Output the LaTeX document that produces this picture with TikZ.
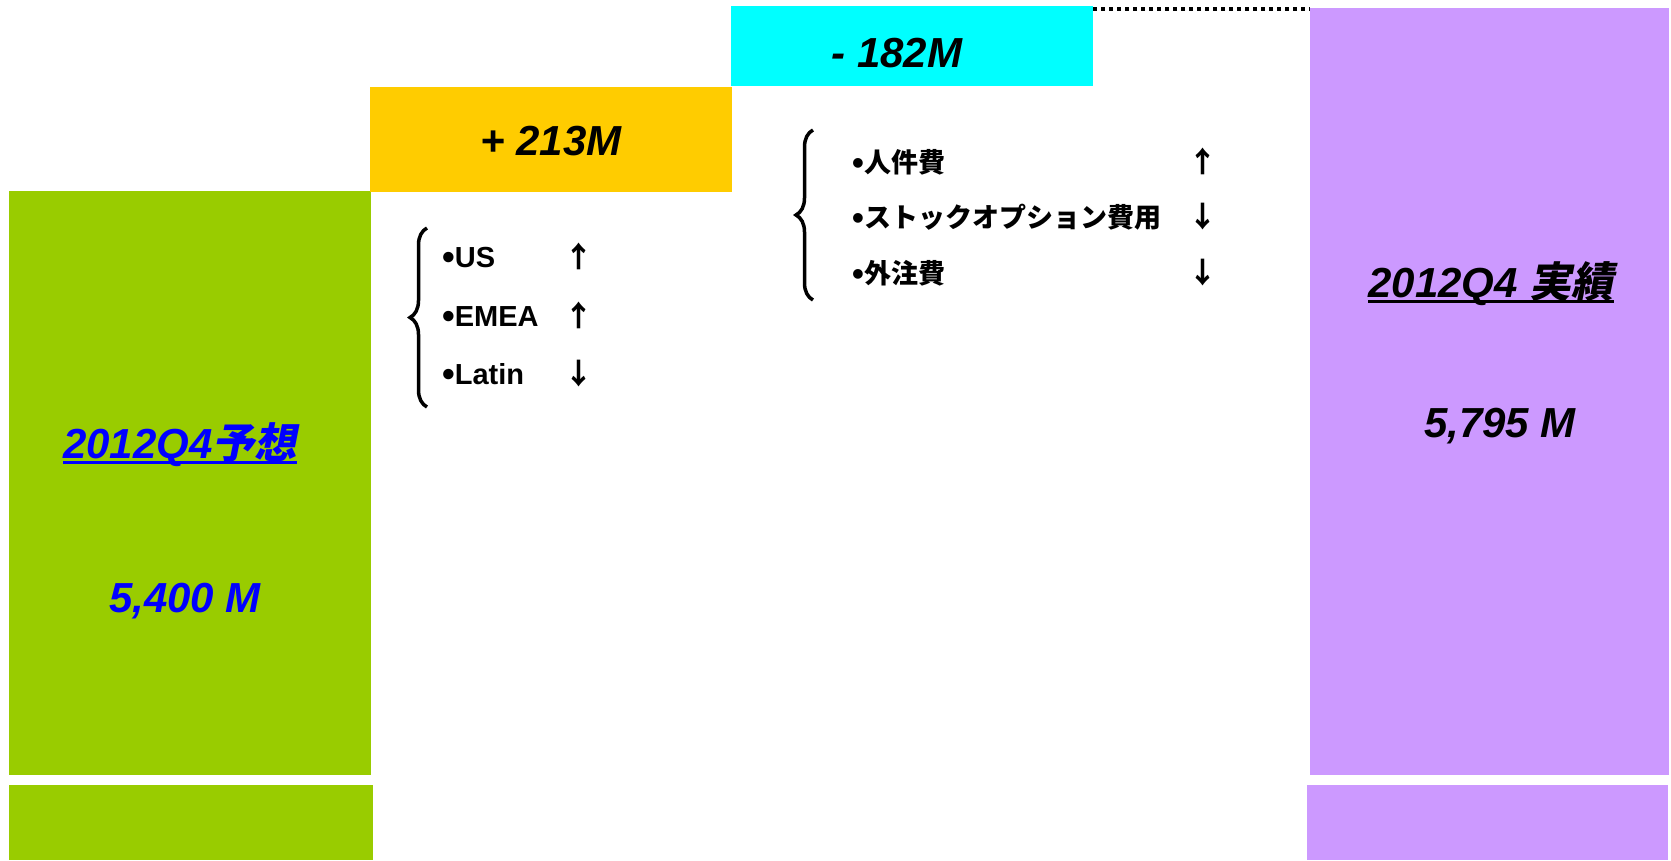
\documentclass[tikz,border=0pt]{standalone}
\usepackage{fontspec}
\setmainfont{Liberation Sans}
\newfontfamily\jp{Noto Sans CJK JP}
\newfontfamily\jpsl{Noto Sans CJK JP}[FakeSlant=0.2]
\usetikzlibrary{decorations.pathreplacing}
\definecolor{barGreen}{HTML}{99CC00}
\definecolor{barYellow}{HTML}{FFCC00}
\definecolor{barCyan}{HTML}{00FFFF}
\definecolor{barPurple}{HTML}{CC99FF}
\definecolor{txtBlue}{HTML}{0000FF}
\newcommand\ulx[1]{\setbox0\hbox{#1}\rlap{\vrule width \wd0 height -3pt depth 6pt}\box0}
\newcommand\bul{\raisebox{-0.09em}{\scalebox{1.25}{•}}}
\begin{document}
\begin{tikzpicture}[x=1pt,y=-1pt,
  bar/.style={draw=none,inner sep=0pt,outer sep=0pt,anchor=north west},
  big/.style={inner sep=0pt,anchor=base,font=\fontsize{42}{50}\selectfont\bfseries\itshape},
  item/.style={inner sep=0pt,anchor=base west,font=\fontsize{29}{34}\selectfont\bfseries},
  jitem/.style={inner sep=0pt,anchor=base west,font=\fontsize{27}{32}\selectfont\bfseries},
  updown/.style={inner sep=0pt,anchor=base,font=\fontsize{29}{34}\selectfont\jp\bfseries},
  bracestyle/.style={decorate,decoration={brace,amplitude=17pt},line width=3.5pt},
  dotline/.style={line width=3.5pt,dash pattern=on 3.5pt off 4.5pt}]
\useasboundingbox (0,0) rectangle (1671,860);
\fill[white] (0,0) rectangle (1671,860);
% bars
\node[bar,fill=barGreen,minimum width=362pt,minimum height=584pt] (green) at (9,191) {};
\node[bar,fill=barGreen,minimum width=364pt,minimum height=75pt] (green2) at (9,785) {};
\node[bar,fill=barYellow,minimum width=362pt,minimum height=105pt] (yellow) at (370,87) {};
\node[bar,fill=barCyan,minimum width=362pt,minimum height=80pt] (cyan) at (731,6) {};
\node[bar,fill=barPurple,minimum width=359pt,minimum height=767pt] (purple) at (1310,8) {};
\node[bar,fill=barPurple,minimum width=361pt,minimum height=75pt] (purple2) at (1307,785) {};
% dotted line
\coordinate (d1) at (1093,9);
\coordinate (d2) at (1310,9);
\draw[dotline] (d1) -- (d2);
% labels
\node[big,text=txtBlue] (lbl1) at (180,458) {\ulx{2012Q4{\jpsl 予想}}};
\node[big,text=txtBlue] (val1) at (185,612) {5,400 M};
\node[big] (plus) at (551,155) {+ 213M};
\node[big] (minus) at (897,67) {- 182M};
\node[big] (lbl2) at (1491,297) {\ulx{2012Q4 {\jpsl 実績}}};
\node[big] (val2) at (1500,437) {5,795 M};
% list 1
\coordinate (b1a) at (427,407);
\coordinate (b1b) at (427,228);
\draw[bracestyle] (b1a) -- (b1b);
\node[item] (us) at (442,267) {\bul US};
\node[item] (emea) at (442,326) {\bul EMEA};
\node[item] (latin) at (442,384) {\bul Latin};
\node[updown] (usA) at (579,267) {↑};
\node[updown] (emeaA) at (579,326) {↑};
\node[updown] (latinA) at (579,384) {↓};
% list 2
\coordinate (b2a) at (813,300);
\coordinate (b2b) at (813,130);
\draw[bracestyle] (b2a) -- (b2b);
\node[jitem] (jin) at (852,172) {\bul{\jp 人件費}};
\node[jitem] (stock) at (852,227) {\bul{\jp ストックオプション費用}};
\node[jitem] (gai) at (852,283) {\bul{\jp 外注費}};
\node[updown] (jinA) at (1203,172) {↑};
\node[updown] (stockA) at (1203,227) {↓};
\node[updown] (gaiA) at (1203,283) {↓};
\end{tikzpicture}
\end{document}
